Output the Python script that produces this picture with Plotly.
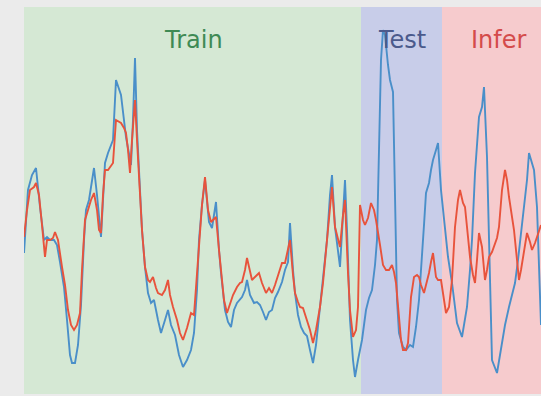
import plotly.graph_objects as go

# Observed signal (blue) and model output (red), sampled at irregular time steps
t_obs = [0, 4, 8, 12, 16, 20, 23, 26, 30, 33, 36, 40, 43, 46, 48, 51, 54, 57, 60, 62,
         65, 68, 70, 73, 77, 79, 81, 84, 89, 92, 97, 102, 104, 107, 109, 111, 113, 116, 118, 121,
         124, 127, 130, 134, 137, 141, 144, 147, 151, 155, 159, 163, 167, 170, 173, 175, 178, 181, 185, 188,
         192, 195, 197, 201, 204, 207, 210, 213, 216, 218, 221, 223, 226, 230, 233, 236, 239, 242, 245, 248,
         251, 254, 258, 261, 264, 266, 269, 271, 274, 277, 280, 283, 286, 289, 292, 296, 299, 303, 306, 308,
         311, 314, 316, 319, 321, 323, 326, 329, 331, 334, 338, 342, 345, 348, 351, 353, 355, 357, 359, 361,
         364, 366, 369, 371, 373, 375, 379, 382, 386, 389, 392, 395, 397, 400, 402, 405, 407, 409, 412, 414,
         417, 420, 424, 428, 433, 438, 443, 446, 448, 451, 455, 458, 460, 463, 465, 466, 468, 473, 478, 481,
         485, 491, 494, 498, 503, 505, 510, 513, 515, 517]
v_obs = [141, 204, 219, 226, 187, 154, 157, 154, 154, 149, 132, 107, 74, 39, 31, 31, 49, 89, 154, 184,
         194, 214, 226, 199, 157, 194, 231, 241, 254, 314, 299, 257, 244, 229, 274, 336, 264, 204, 164, 127,
         101, 91, 94, 74, 61, 74, 84, 69, 59, 39, 27, 34, 44, 61, 104, 154, 189, 214, 172, 166,
         192, 144, 121, 84, 72, 67, 84, 91, 94, 97, 104, 114, 99, 91, 92, 89, 82, 74, 82, 84,
         96, 102, 112, 124, 132, 171, 124, 101, 79, 67, 61, 58, 44, 31, 49, 87, 111, 154, 199, 219,
         167, 144, 127, 179, 214, 164, 74, 34, 17, 34, 54, 84, 96, 104, 129, 154, 244, 334, 364, 359,
         329, 314, 302, 194, 94, 61, 47, 44, 49, 47, 67, 94, 121, 169, 201, 211, 224, 234, 244, 251,
         204, 174, 137, 111, 71, 57, 87, 124, 154, 221, 277, 287, 307, 237, 164, 121, 34, 21, 54, 69,
         87, 111, 134, 167, 214, 241, 224, 187, 124, 69]

t_pred = [0, 3, 6, 10, 12, 15, 18, 20, 21, 23, 26, 29, 31, 34, 36, 38, 41, 44, 47, 50,
          53, 56, 58, 61, 64, 67, 70, 73, 75, 77, 79, 81, 84, 87, 89, 92, 95, 97, 100, 102,
          104, 106, 108, 111, 113, 116, 118, 121, 124, 126, 129, 132, 134, 138, 141, 144, 146, 149, 153, 156,
          159, 163, 167, 170, 173, 175, 178, 181, 184, 187, 189, 192, 195, 197, 200, 203, 206, 209, 213, 216,
          218, 221, 223, 226, 228, 232, 235, 238, 242, 245, 248, 251, 255, 258, 261, 264, 266, 269, 271, 274,
          276, 279, 283, 286, 289, 292, 296, 299, 303, 306, 308, 311, 314, 316, 319, 321, 324, 326, 329, 332,
          334, 336, 339, 341, 344, 347, 350, 352, 356, 359, 362, 365, 368, 370, 372, 375, 377, 379, 382, 384,
          387, 390, 393, 395, 397, 400, 403, 405, 407, 409, 412, 414, 417, 419, 422, 425, 428, 431, 434, 436,
          439, 441, 443, 446, 449, 451, 453, 455, 458, 461, 463, 465, 468, 470, 473, 475, 478, 481, 483, 485,
          488, 490, 493, 495, 497, 500, 503, 506, 508, 511, 513, 517]
v_pred = [157, 184, 204, 207, 211, 199, 169, 144, 137, 154, 154, 156, 162, 154, 139, 127, 109, 84, 69, 64,
          69, 81, 124, 174, 184, 194, 201, 184, 164, 161, 199, 224, 224, 229, 231, 274, 272, 271, 266, 261,
          244, 221, 254, 294, 254, 204, 164, 127, 114, 112, 117, 106, 101, 99, 104, 114, 99, 87, 74, 61,
          54, 66, 81, 79, 124, 154, 189, 217, 184, 172, 174, 177, 144, 121, 94, 81, 89, 99, 107, 111,
          112, 124, 136, 122, 114, 118, 121, 111, 101, 106, 101, 109, 121, 131, 131, 144, 154, 119, 101, 92,
          87, 86, 74, 64, 51, 64, 87, 111, 154, 189, 207, 167, 154, 147, 179, 194, 121, 84, 57, 64,
          87, 189, 174, 169, 176, 191, 184, 174, 149, 129, 124, 124, 129, 122, 111, 74, 54, 44, 44, 51,
          97, 117, 119, 117, 109, 101, 112, 121, 132, 141, 117, 114, 114, 99, 81, 87, 114, 167, 194, 204,
          191, 187, 164, 137, 119, 111, 134, 161, 147, 114, 124, 137, 142, 147, 156, 167, 204, 224, 214, 197,
          179, 164, 134, 114, 124, 141, 161, 152, 144, 151, 157, 169]

# Phase boundaries along the time axis and where each phase label sits
phase_names = ["Train", "Test", "Infer"]
phase_start = [0, 337, 418]
phase_end = [337, 418, 517]
phase_label_t = [169, 378, 474.5]
phase_fill = ["#d5e8d4", "#c8cde9", "#f6cbcd"]
phase_text = ["#3f8a54", "#4b5a8c", "#d44b4b"]

fig = go.Figure()
fig.add_trace(go.Scatter(x=t_obs, y=v_obs, mode="lines",
                         line=dict(color="#4a8fc9", width=1.9), showlegend=False))
fig.add_trace(go.Scatter(x=t_pred, y=v_pred, mode="lines",
                         line=dict(color="#e8533c", width=1.9), showlegend=False))

for name, x0, x1, lx, fill, tc in zip(phase_names, phase_start, phase_end,
                                      phase_label_t, phase_fill, phase_text):
    fig.add_shape(type="rect", xref="x", yref="paper", x0=x0, x1=x1, y0=0, y1=1,
                  fillcolor=fill, line_width=0, layer="below")
    fig.add_annotation(x=lx, y=0.915, xref="x", yref="paper",
                       text=name, showarrow=False, yanchor="middle",
                       font=dict(family="DejaVu Sans", size=24, color=tc))

fig.update_xaxes(range=[0, 517], visible=False, showgrid=False, zeroline=False)
fig.update_yaxes(range=[0, 387], visible=False, showgrid=False, zeroline=False)
fig.update_layout(width=541, height=396,
                  margin=dict(l=24, r=0, t=7, b=2),
                  paper_bgcolor="#ebebeb", plot_bgcolor="#ebebeb")

fig.write_html("out.html")
